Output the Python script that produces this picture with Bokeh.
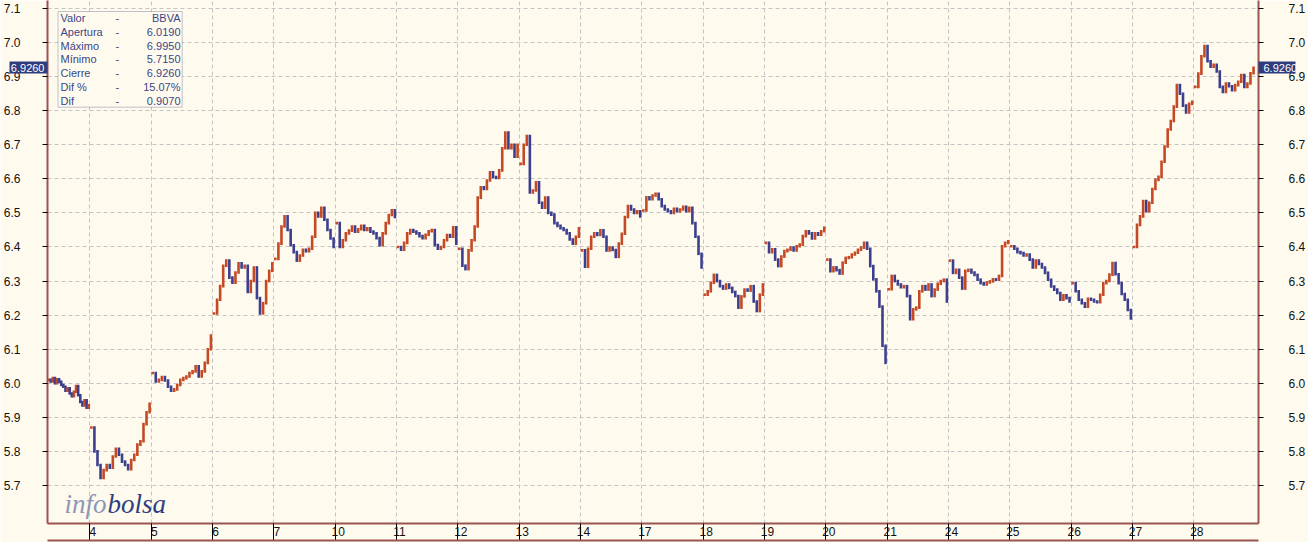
from bokeh.plotting import figure
from bokeh.models import FixedTicker, LinearAxis, PrintfTickFormatter, BoxAnnotation, Range1d
from bokeh.core.properties import value
from bokeh.embed import file_html
from bokeh.resources import INLINE

# ---------------- data ----------------
days = ["3", "4", "5", "6", "7", "10", "11", "12", "13", "14",
        "17", "18", "19", "20", "21", "24", "25", "26", "27", "28"]

p03 = [6.010, 6.005, 6.015, 6.000, 6.012, 6.004, 5.995, 5.990, 5.978, 5.985,
       5.970, 5.962, 5.975, 5.992, 5.965, 5.945, 5.935, 5.950, 5.928, 5.935]
p04 = [5.870, 5.800, 5.760, 5.722, 5.745, 5.760, 5.752, 5.785, 5.808, 5.790,
       5.770, 5.760, 5.748, 5.775, 5.790, 5.820, 5.830, 5.880, 5.915, 5.940]
p05 = [6.030, 6.005, 6.010, 6.018, 6.008, 5.990, 5.978, 5.982, 5.995, 6.010,
       6.015, 6.020, 6.030, 6.035, 6.050, 6.020, 6.035, 6.060, 6.100, 6.140]
p06 = [6.205, 6.245, 6.285, 6.345, 6.360, 6.310, 6.295, 6.325, 6.352, 6.340,
       6.345, 6.268, 6.300, 6.340, 6.250, 6.205, 6.235, 6.300, 6.330, 6.352]
p07 = [6.365, 6.410, 6.460, 6.490, 6.450, 6.405, 6.385, 6.360, 6.375, 6.392,
       6.388, 6.395, 6.430, 6.500, 6.490, 6.515, 6.480, 6.450, 6.425, 6.400]
p10 = [6.470, 6.400, 6.420, 6.440, 6.448, 6.460, 6.445, 6.452, 6.462, 6.450,
       6.455, 6.445, 6.440, 6.426, 6.405, 6.440, 6.470, 6.494, 6.508, 6.488]
p11 = [6.400, 6.392, 6.412, 6.440, 6.450, 6.445, 6.440, 6.432, 6.426, 6.436,
       6.446, 6.450, 6.406, 6.395, 6.400, 6.420, 6.435, 6.430, 6.458, 6.410]
p12 = [6.395, 6.345, 6.335, 6.390, 6.420, 6.460, 6.545, 6.575, 6.570, 6.595,
       6.619, 6.605, 6.603, 6.625, 6.690, 6.736, 6.690, 6.700, 6.665, 6.700]
p13 = [6.644, 6.700, 6.726, 6.560, 6.566, 6.590, 6.530, 6.515, 6.545, 6.500,
       6.495, 6.470, 6.462, 6.455, 6.450, 6.440, 6.422, 6.410, 6.430, 6.455]
p14 = [6.390, 6.342, 6.395, 6.430, 6.440, 6.435, 6.449, 6.430, 6.390, 6.398,
       6.391, 6.371, 6.410, 6.439, 6.488, 6.520, 6.510, 6.500, 6.505, 6.490]
p17 = [6.507, 6.546, 6.540, 6.551, 6.556, 6.540, 6.520, 6.510, 6.505, 6.500,
       6.512, 6.505, 6.510, 6.518, 6.505, 6.515, 6.470, 6.430, 6.380, 6.340]
p18 = [6.260, 6.270, 6.295, 6.318, 6.300, 6.285, 6.278, 6.290, 6.280, 6.268,
       6.256, 6.222, 6.255, 6.275, 6.272, 6.285, 6.240, 6.212, 6.260, 6.290]
p19 = [6.412, 6.385, 6.393, 6.363, 6.344, 6.372, 6.388, 6.392, 6.398, 6.390,
       6.402, 6.407, 6.432, 6.446, 6.440, 6.425, 6.440, 6.436, 6.446, 6.456]
p20 = [6.363, 6.329, 6.340, 6.332, 6.322, 6.354, 6.368, 6.370, 6.378, 6.383,
       6.392, 6.398, 6.412, 6.395, 6.344, 6.305, 6.270, 6.225, 6.110, 6.060]
p21 = [6.276, 6.315, 6.300, 6.290, 6.282, 6.285, 6.256, 6.188, 6.217, 6.222,
       6.270, 6.285, 6.275, 6.290, 6.256, 6.275, 6.292, 6.300, 6.304, 6.240]
p24 = [6.360, 6.324, 6.333, 6.310, 6.278, 6.330, 6.333, 6.325, 6.318, 6.304,
       6.294, 6.290, 6.296, 6.299, 6.305, 6.304, 6.315, 6.402, 6.412, 6.417]
p25 = [6.402, 6.395, 6.385, 6.382, 6.375, 6.378, 6.363, 6.340, 6.360, 6.350,
       6.340, 6.324, 6.304, 6.284, 6.275, 6.265, 6.245, 6.258, 6.250, 6.240]
p26 = [6.294, 6.270, 6.245, 6.235, 6.225, 6.248, 6.245, 6.240, 6.238, 6.260,
       6.294, 6.300, 6.319, 6.353, 6.320, 6.294, 6.262, 6.245, 6.215, 6.190]
p27 = [6.400, 6.465, 6.490, 6.535, 6.505, 6.530, 6.570, 6.597, 6.606, 6.650,
       6.695, 6.745, 6.770, 6.812, 6.875, 6.850, 6.815, 6.795, 6.820, 6.826]
p28 = [6.870, 6.909, 6.960, 6.990, 6.945, 6.929, 6.935, 6.915, 6.870, 6.855,
       6.880, 6.872, 6.860, 6.875, 6.885, 6.905, 6.870, 6.880, 6.910, 6.926]

prices_by_day = [p03, p04, p05, p06, p07, p10, p11, p12, p13, p14,
                 p17, p18, p19, p20, p21, p24, p25, p26, p27, p28]

y_ticks = [5.7, 5.8, 5.9, 6.0, 6.1, 6.2, 6.3, 6.4, 6.5, 6.6, 6.7, 6.8, 6.9, 7.0, 7.1]

info_names = ["Valor", "Apertura", "Máximo", "Mínimo", "Cierre", "Dif %", "Dif"]
info_values = ["BBVA", "6.0190", "6.9950", "5.7150", "6.9260", "15.07%", "0.9070"]
last_price = 6.9260

# ---------------- style / layout ----------------
BG = "#FFFAEE"
BROWN = "#9B5550"
NAVY = "#2E3C7E"
UP = "#C44A25"
DOWN = "#3C3F8E"
GRID = "#C4C4C4"
FONT = "Liberation Sans"

X0, X1 = 0.31, 20.056          # visible day-index range
Y0, Y1 = 5.5884, 7.1235        # visible price range
FL, FW, FH = 47, 1211, 523     # frame left / width / height in px


def px_x(px):   # page px -> day index
    return X0 + (px - FL) * (X1 - X0) / FW


def py_y(py):   # page px -> price
    return Y1 - py * (Y1 - Y0) / FH


# ---------------- bars ----------------
xs, y0s, y1s, cols = [], [], [], []
for d, prices in enumerate(prices_by_day):
    start = X0 if d == 0 else d
    w = (d + 1) - start
    n = len(prices)
    for i, pr in enumerate(prices):
        prev = prices[i - 1] if i > 0 else pr
        xs.append(start + w * (i + 0.5) / n)
        y0s.append(prev)
        y1s.append(pr)
        cols.append(UP if pr >= prev else DOWN)

p = figure(width=1308, height=542,
           x_range=Range1d(X0, X1), y_range=Range1d(Y0, Y1),
           output_backend="svg", toolbar_location=None,
           x_axis_location=None, y_axis_location=None,
           min_border_left=FL, min_border_right=50,
           min_border_top=0, min_border_bottom=19,
           background_fill_color=BG, border_fill_color=BG,
           outline_line_color=None)

# grids
boundaries = list(range(1, len(days)))
p.xgrid.ticker = FixedTicker(ticks=boundaries)
p.ygrid.ticker = FixedTicker(ticks=y_ticks)
for g in (p.xgrid, p.ygrid):
    g.grid_line_color = GRID
    g.grid_line_dash = "4 3"
    g.grid_line_width = 1

# x axis 1: frame bottom line + black day separators through the band (no labels)
xa = LinearAxis(ticker=FixedTicker(ticks=boundaries))
xa.major_tick_out = 17
xa.major_tick_in = 0
xa.major_tick_line_color = "black"
xa.minor_tick_out = 0
xa.minor_tick_in = 0
xa.major_label_standoff = 0
xa.axis_label_standoff = 0
xa.major_label_text_font_size = "0px"
xa.major_label_text_color = None
xa.axis_line_color = BROWN
xa.axis_line_width = 2
p.add_layout(xa, "below")

# x axis 2: band bottom line + day labels drawn back up inside the band
label_pos = [b + 0.05 for b in boundaries]
xb = LinearAxis(ticker=FixedTicker(ticks=label_pos))
xb.major_label_overrides = {lp: days[b] for lp, b in zip(label_pos, boundaries)}
xb.major_tick_out = 0
xb.major_tick_in = 0
xb.minor_tick_out = 0
xb.minor_tick_in = 0
xb.major_tick_line_color = None
xb.major_label_standoff = -14
xb.axis_label_standoff = 0
xb.major_label_text_align = "left"
xb.major_label_text_font = FONT
xb.major_label_text_font_size = "12px"
xb.major_label_text_color = "#111111"
xb.axis_line_color = BROWN
xb.axis_line_width = 2
p.add_layout(xb, "below")

tag = "%.4f" % last_price


def tag_axis(tick_out, standoff):
    # axis next to the frame: tick marks every 0.1 plus the last-price tag
    ax = LinearAxis(ticker=FixedTicker(ticks=[last_price], minor_ticks=y_ticks))
    ax.level = "annotation"
    ax.major_label_overrides = {last_price: tag}
    ax.major_tick_out = tick_out
    ax.major_tick_in = 0
    ax.major_tick_line_color = NAVY
    ax.major_tick_line_width = 12
    ax.minor_tick_out = 5
    ax.minor_tick_in = 0
    ax.minor_tick_line_color = "black"
    ax.axis_line_color = BROWN
    ax.axis_line_width = 2
    ax.major_label_standoff = standoff
    ax.axis_label_standoff = 0
    ax.major_label_text_font = FONT
    ax.major_label_text_font_size = "11px"
    ax.major_label_text_color = "white"
    return ax


def value_axis(standoff):
    ax = LinearAxis(ticker=FixedTicker(ticks=y_ticks),
                    formatter=PrintfTickFormatter(format="%.1f"))
    ax.major_tick_out = 0
    ax.major_tick_in = 0
    ax.minor_tick_out = 0
    ax.minor_tick_in = 0
    ax.major_tick_line_color = None
    ax.minor_tick_line_color = None
    ax.axis_line_color = None
    ax.major_label_standoff = standoff
    ax.axis_label_standoff = 0
    ax.major_label_text_font = FONT
    ax.major_label_text_font_size = "12px"
    ax.major_label_text_color = "#111111"
    return ax


p.add_layout(tag_axis(38, -35), "left")
p.add_layout(value_axis(-13), "left")
p.add_layout(tag_axis(37, -32), "right")
p.add_layout(value_axis(-12), "right")

# price bars
p.segment(x0=xs, y0=y0s, x1=xs, y1=y1s, color=cols, line_width=2.6, line_cap="square")

# info box
p.add_layout(BoxAnnotation(left=px_x(57.5), right=px_x(181.7), top=py_y(11), bottom=py_y(106.7),
                           fill_color=BG, fill_alpha=1.0, line_color=NAVY, line_width=1,
                           level="underlay"))
row_y = [py_y(17.5 + 13.8 * i) for i in range(len(info_names))]
common = dict(text_font=value(FONT), text_font_size="11px", text_color="#3A4686",
              text_baseline="middle")
p.text(x=[px_x(60)] * len(info_names), y=row_y, text=info_names, text_align="left", **common)
p.text(x=[px_x(115)] * len(info_names), y=row_y, text=["-"] * len(info_names),
       text_align="left", **common)
p.text(x=[px_x(180)] * len(info_names), y=row_y, text=info_values, text_align="right", **common)

# logo
p.text(x=[px_x(64)], y=[py_y(503)], text=["info"], text_font=value("Liberation Serif"),
       text_font_style="italic", text_font_size="27px", text_color="#8C97B8",
       text_baseline="alphabetic", text_align="left")
p.text(x=[px_x(107)], y=[py_y(503)], text=["bolsa"], text_font=value("Liberation Serif"),
       text_font_style="italic", text_font_size="27px", text_color="#2E3F80",
       text_baseline="alphabetic", text_align="left")

open("out.html", "w").write(file_html(p, INLINE))
